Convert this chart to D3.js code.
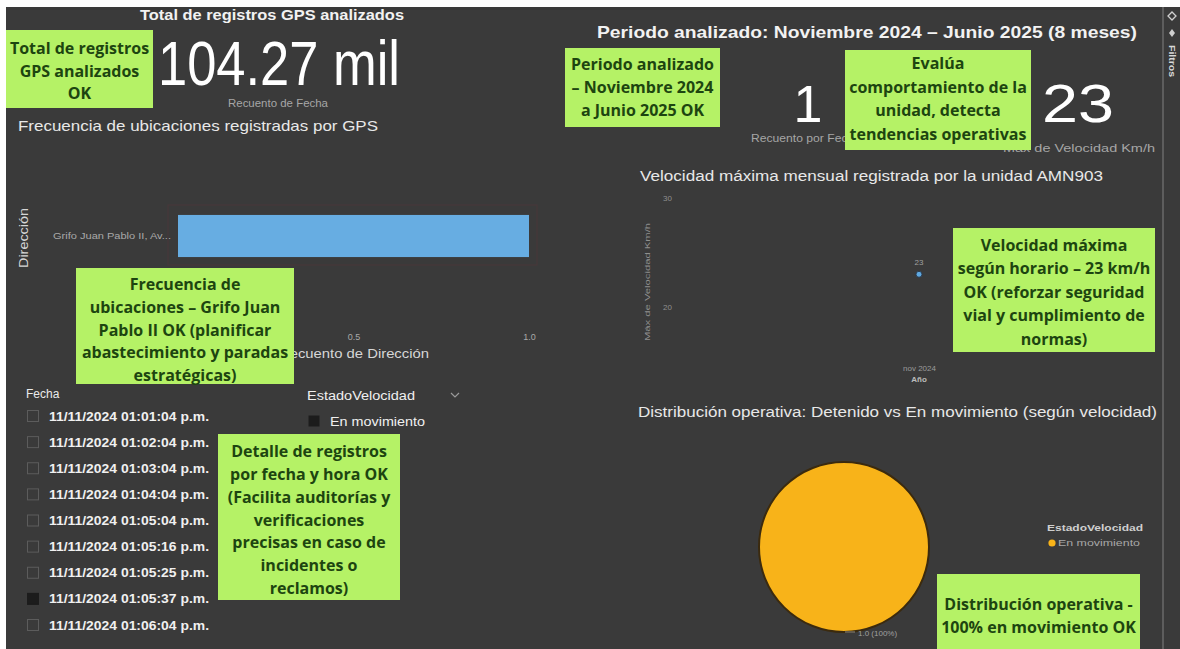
<!DOCTYPE html>
<html>
<head>
<meta charset="utf-8">
<script src="https://cdn.jsdelivr.net/npm/d3@7"></script>
<style>
  html, body { margin: 0; padding: 0; background: #ffffff; }
  svg { display: block; }
</style>
</head>
<body>
<svg id="dash" width="1180" height="649"></svg>
<script>
// ---- Dashboard values ----
const totalRegistros = 104270;
const recuentoPorFecha = 1;
const periodoTitulo = "Periodo analizado: Noviembre 2024 – Junio 2025 (8 meses)";

const direcciones = ["Grifo Juan Pablo II, Av..."];
const recuentoDireccion = [1];
const direccionTicks = [0.5, 1.0];

const meses = ["nov 2024"];
const velocidadMaxima = [23];
const velocidadTicks = [20, 30];

const fechas = [
  "11/11/2024 01:01:04 p.m.",
  "11/11/2024 01:02:04 p.m.",
  "11/11/2024 01:03:04 p.m.",
  "11/11/2024 01:04:04 p.m.",
  "11/11/2024 01:05:04 p.m.",
  "11/11/2024 01:05:16 p.m.",
  "11/11/2024 01:05:25 p.m.",
  "11/11/2024 01:05:37 p.m.",
  "11/11/2024 01:06:04 p.m."
];
const fechaSeleccionada = [false, false, false, false, false, false, false, true, false];

const estados = ["En movimiento"];
const estadoValores = [1.0];

const notas = [
  ["Total de registros", "GPS analizados", "OK"],
  ["Frecuencia de", "ubicaciones – Grifo Juan", "Pablo II OK (planificar", "abastecimiento y paradas", "estratégicas)"],
  ["Detalle de registros", "por fecha y hora OK", "(Facilita auditorías y", "verificaciones", "precisas en caso de", "incidentes o", "reclamos)"],
  ["Periodo analizado", "– Noviembre 2024", "a Junio 2025 OK"],
  ["Evalúa", "comportamiento de la", "unidad, detecta", "tendencias operativas"],
  ["Velocidad máxima", "según horario – 23 km/h", "OK (reforzar seguridad", "vial y cumplimiento de", "normas)"],
  ["Distribución operativa -", "100% en movimiento OK"]
];

// ---- Styles ----
const BG = "#3a3a3a";
const FONT = "'Liberation Sans', Arial, sans-serif";
const NOTE_FONT = "'Open Sans', 'Noto Sans', sans-serif";
const NOTE_FILL = "#b5f266";
const NOTE_TEXT = "#1d4510";

const svg = d3.select("#dash");

svg.append("rect").attr("x", 6).attr("y", 7).attr("width", 1174).attr("height", 642).attr("fill", BG);

function txt(g, x, y, s, o = {}) {
  const t = g.append("text")
    .attr("x", x).attr("y", y)
    .attr("fill", o.fill || "#e6e6e6")
    .attr("font-family", o.family || FONT)
    .attr("font-size", o.size || 12)
    .attr("font-weight", o.weight || "normal")
    .attr("text-anchor", o.anchor || "start")
    .text(s);
  if (o.width) t.attr("textLength", o.width).attr("lengthAdjust", "spacingAndGlyphs");
  if (o.rotate) t.attr("transform", `rotate(${o.rotate},${x},${y})`);
  return t;
}

// ---- Card: total de registros ----
const fmtMil = v => d3.format(".2f")(v / 1000) + " mil";
txt(svg, 272, 20, "Total de registros GPS analizados", {size: 15, weight: "bold", anchor: "middle", fill: "#f2f2f2", width: 264});
txt(svg, 279, 85, fmtMil(totalRegistros), {size: 63, anchor: "middle", fill: "#ffffff", width: 242});
txt(svg, 278, 107, "Recuento de Fecha", {size: 11, anchor: "middle", fill: "#a6a6a6", width: 100});

// ---- Bar chart: frecuencia por dirección ----
txt(svg, 18, 131, "Frecuencia de ubicaciones registradas por GPS", {size: 15, fill: "#e8e8e8", width: 360});

const xDir = d3.scaleLinear().domain([0, 1]).range([178, 529]);
const yDir = d3.scaleBand().domain(direcciones).range([206, 266]).paddingInner(0.2).paddingOuter(0.17);

svg.append("rect").attr("x", 168).attr("y", 205).attr("width", 369).attr("height", 60)
  .attr("fill", "none").attr("stroke", "#47383a").attr("stroke-width", 1.2);

const barG = svg.append("g");
barG.selectAll("rect.bar").data(direcciones).join("rect")
  .attr("class", "bar")
  .attr("x", xDir(0))
  .attr("y", d => yDir(d))
  .attr("width", (d, i) => xDir(recuentoDireccion[i]) - xDir(0))
  .attr("height", yDir.bandwidth())
  .attr("fill", "#67ade2");

const yAxisDir = svg.append("g").attr("transform", `translate(${xDir(0) - 7},0)`)
  .call(d3.axisLeft(yDir).tickSize(0).tickPadding(0));
yAxisDir.select(".domain").remove();
yAxisDir.selectAll("text").attr("fill", "#a9a9a9").attr("font-family", FONT).attr("font-size", 8.5)
  .attr("textLength", 118).attr("lengthAdjust", "spacingAndGlyphs");

const xAxisDir = svg.append("g").attr("transform", "translate(0,330)")
  .call(d3.axisBottom(xDir).tickValues(direccionTicks).tickFormat(d3.format(".1f")).tickSize(0).tickPadding(4));
xAxisDir.select(".domain").remove();
xAxisDir.selectAll("text").attr("fill", "#a9a9a9").attr("font-family", FONT).attr("font-size", 9);

txt(svg, 28, 238, "Dirección", {size: 13, anchor: "middle", fill: "#d6d6d6", rotate: -90, width: 60});
txt(svg, 354, 358, "Recuento de Dirección", {size: 13, anchor: "middle", fill: "#d6d6d6", width: 150});

// ---- Slicer: Fecha ----
txt(svg, 26, 398, "Fecha", {size: 12, fill: "#eaeaea"});
const fechaG = svg.append("g");
const rowY = d3.scalePoint().domain(d3.range(fechas.length)).range([416, 625]);
fechas.forEach((f, i) => {
  const cy = rowY(i);
  fechaG.append("rect").attr("x", 27.5).attr("y", cy - 5.5).attr("width", 11).attr("height", 11)
    .attr("fill", fechaSeleccionada[i] ? "#1c1c1c" : "none")
    .attr("stroke", fechaSeleccionada[i] ? "#1c1c1c" : "#5c5c5c").attr("stroke-width", 1);
  txt(fechaG, 49, cy + 4.5, f, {size: 13, weight: "bold", fill: "#f0f0f0", width: 160});
});

// ---- Slicer: EstadoVelocidad ----
txt(svg, 307, 400, "EstadoVelocidad", {size: 12, fill: "#f0f0f0", width: 108});
svg.append("path").attr("d", "M451,393 L455,397 L459,393").attr("fill", "none")
  .attr("stroke", "#9a9a9a").attr("stroke-width", 1.2);
estados.forEach((e, i) => {
  const cy = 421 + i * 24;
  svg.append("rect").attr("x", 308.5).attr("y", cy - 5.5).attr("width", 11).attr("height", 11).attr("fill", "#1c1c1c");
  txt(svg, 330, cy + 4.5, e, {size: 12, fill: "#f0f0f0", width: 95});
});

// ---- Cards: recuento y velocidad ----
txt(svg, 867, 38, periodoTitulo, {size: 17, weight: "bold", anchor: "middle", fill: "#f2f2f2", width: 540});
txt(svg, 808, 122, d3.format("d")(recuentoPorFecha), {size: 52, anchor: "middle", fill: "#ffffff"});
txt(svg, 751, 142, "Recuento por Fecha", {size: 11.5, fill: "#a6a6a6", width: 110});
txt(svg, 1078, 122, d3.format("d")(d3.max(velocidadMaxima)), {size: 54, anchor: "middle", fill: "#ffffff", width: 72});
txt(svg, 1155, 152, "Máx de Velocidad Km/h", {size: 11, anchor: "end", fill: "#a6a6a6", width: 152});

// ---- Line chart: velocidad máxima mensual ----
txt(svg, 640, 181, "Velocidad máxima mensual registrada por la unidad AMN903", {size: 14, fill: "#e8e8e8", width: 463});
const xMes = d3.scalePoint().domain(meses).range([680, 1158]).padding(0.5);
const yVel = d3.scaleLinear().domain([20, 30]).range([307, 198]);

const yAxisVel = svg.append("g").attr("transform", "translate(672,0)")
  .call(d3.axisLeft(yVel).tickValues(velocidadTicks).tickSize(0).tickPadding(0));
yAxisVel.select(".domain").remove();
yAxisVel.selectAll("text").attr("fill", "#8f8f8f").attr("font-family", FONT).attr("font-size", 8).attr("text-anchor", "end");

const xAxisVel = svg.append("g").attr("transform", "translate(0,365)")
  .call(d3.axisBottom(xMes).tickSize(0).tickPadding(0));
xAxisVel.select(".domain").remove();
xAxisVel.selectAll("text").attr("fill", "#9a9a9a").attr("font-family", FONT).attr("font-size", 8);
txt(svg, xMes(meses[0]), 382, "Año", {size: 8, weight: "bold", anchor: "middle", fill: "#bdbdbd"});
txt(svg, 650, 282, "Máx de Velocidad Km/h", {size: 8, anchor: "middle", fill: "#8f8f8f", rotate: -90, width: 118});

const velLine = d3.line().x((d, i) => xMes(meses[i])).y(d => yVel(d));
svg.append("path").datum(velocidadMaxima).attr("d", velLine).attr("fill", "none")
  .attr("stroke", "#5fa8e0").attr("stroke-width", 2);
svg.selectAll("circle.pt").data(velocidadMaxima).join("circle")
  .attr("class", "pt")
  .attr("cx", (d, i) => xMes(meses[i])).attr("cy", d => yVel(d))
  .attr("r", 3).attr("fill", "#5fa8e0").attr("stroke", "#2b3d52").attr("stroke-width", 1);
velocidadMaxima.forEach((v, i) => {
  txt(svg, xMes(meses[i]), yVel(v) - 9, d3.format("d")(v), {size: 8, anchor: "middle", fill: "#a0a0a0"});
});

// ---- Pie chart: distribución operativa ----
txt(svg, 638, 417, "Distribución operativa: Detenido vs En movimiento (según velocidad)", {size: 14, fill: "#e8e8e8", width: 519});
const pie = d3.pie().sort(null)(estadoValores);
const arc = d3.arc().innerRadius(0).outerRadius(85);
const pieG = svg.append("g").attr("transform", "translate(844,547)");
const pieColor = d3.scaleOrdinal().domain(estados).range(["#f8b319"]);
pieG.selectAll("path").data(pie).join("path")
  .attr("d", arc)
  .attr("fill", (d, i) => pieColor(estados[i]))
  .attr("stroke", "#3b2a0e").attr("stroke-width", 2);
const total = d3.sum(estadoValores);
estadoValores.forEach((v, i) => {
  svg.append("path").attr("d", "M845,632 L855,632").attr("stroke", "#8a8a8a").attr("stroke-width", 1);
  txt(svg, 858, 636, `${d3.format(".1f")(v)} (${d3.format(".0%")(v / total)})`, {size: 8, fill: "#a0a0a0"});
});
txt(svg, 1143, 531, "EstadoVelocidad", {size: 8.5, weight: "bold", anchor: "end", fill: "#cfcfcf", width: 96});
estados.forEach((e, i) => {
  const cy = 546 + i * 14;
  svg.append("circle").attr("cx", 1052).attr("cy", cy - 3).attr("r", 3.6).attr("fill", pieColor(e));
  txt(svg, 1058, cy, e, {size: 8.5, fill: "#a8a8a8", width: 82});
});

// ---- Filter pane ----
svg.append("line").attr("x1", 1163).attr("x2", 1163).attr("y1", 7).attr("y2", 649)
  .attr("stroke", "#6a6a6a").attr("stroke-width", 1.5);
svg.append("path").attr("d", "M1168,16 L1172,12 L1176,16 L1172,20 Z").attr("fill", "none").attr("stroke", "#cfcfcf").attr("stroke-width", 1.3);
svg.append("path").attr("d", "M1169,33 L1172,29 L1175,33 L1172,37 Z").attr("fill", "#cfcfcf");
txt(svg, 1169, 45, "Filtros", {size: 9, weight: "bold", fill: "#d8d8d8", rotate: 90, width: 32});

// ---- Notes ----
function note(x, y, w, h, lines, cy, lh = 22.8) {
  const g = svg.append("g");
  g.append("rect").attr("x", x).attr("y", y).attr("width", w).attr("height", h).attr("fill", NOTE_FILL);
  const top = cy - (lines.length - 1) * lh / 2;
  lines.forEach((s, i) => {
    g.append("text").attr("x", x + w / 2).attr("y", top + i * lh)
      .attr("dominant-baseline", "central").attr("text-anchor", "middle")
      .attr("font-family", NOTE_FONT).attr("font-weight", "bold").attr("font-size", 16)
      .attr("fill", NOTE_TEXT).text(s);
  });
}
note(6, 30, 147, 78, notas[0], 70.5);
note(76, 268, 218, 116, notas[1], 329.5);
note(218, 434, 182, 166, notas[2], 519.5);
note(565, 48, 155, 79, notas[3], 87);
note(845, 50, 186, 100, notas[4], 98.5, 23.5);
note(953, 228, 202, 124, notas[5], 291.5, 23.5);
note(937, 574, 203, 75, notas[6], 615.5, 23);
</script>
</body>
</html>
